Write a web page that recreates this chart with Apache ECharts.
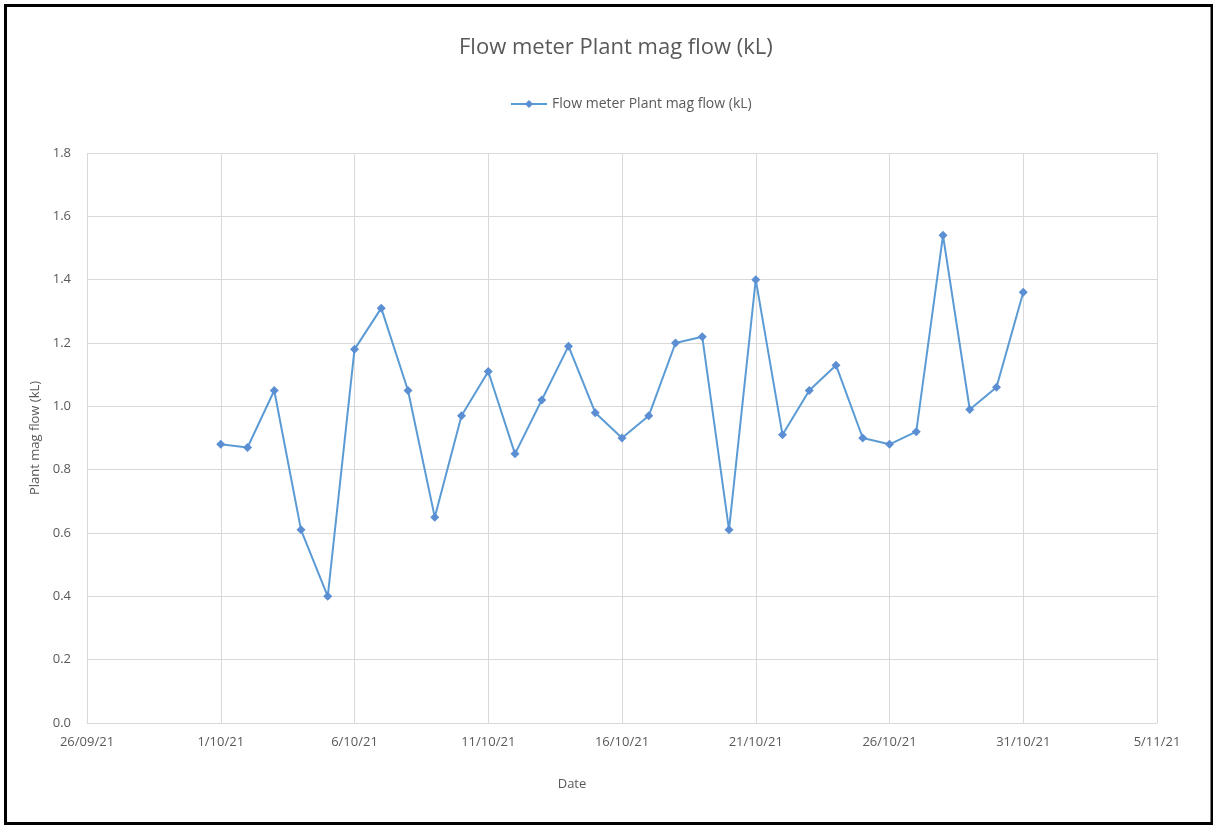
<!DOCTYPE html>
<html>
<head>
<meta charset="utf-8">
<script src="https://cdn.jsdelivr.net/npm/echarts@6/dist/echarts.min.js"></script>
<style>
html,body{margin:0;padding:0;background:#fff;}
#c{width:1213px;height:825px;}
</style>
</head>
<body>
<div id="c"></div>
<script>
var dates = ['2021-10-01','2021-10-02','2021-10-03','2021-10-04','2021-10-05','2021-10-06','2021-10-07','2021-10-08','2021-10-09','2021-10-10',
             '2021-10-11','2021-10-12','2021-10-13','2021-10-14','2021-10-15','2021-10-16','2021-10-17','2021-10-18','2021-10-19','2021-10-20',
             '2021-10-21','2021-10-22','2021-10-23','2021-10-24','2021-10-25','2021-10-26','2021-10-27','2021-10-28','2021-10-29','2021-10-30','2021-10-31'];
var flow = [0.88,0.87,1.05,0.61,0.40,1.18,1.31,1.05,0.65,0.97,
            1.11,0.85,1.02,1.19,0.98,0.90,0.97,1.20,1.22,0.61,
            1.40,0.91,1.05,1.13,0.90,0.88,0.92,1.54,0.99,1.06,1.36];
var axisStartDate = '2021-09-26';
var axisEndDate = '2021-11-05';
var seriesName = 'Flow meter Plant mag flow (kL)';
var titleText = 'Flow meter Plant mag flow (kL)';
var yAxisName = 'Plant mag flow (kL)';
var xAxisName = 'Date';

function toUTC(s){ var p = s.split('-'); return Date.UTC(+p[0], +p[1]-1, +p[2]); }
var DAY = 86400000;
var base = toUTC(axisStartDate);
function dayIndex(s){ return Math.round((toUTC(s) - base) / DAY); }
function fmt(v){
  var d = new Date(base + v * DAY);
  var dd = d.getUTCDate();
  var mm = d.getUTCMonth() + 1;
  var yy = d.getUTCFullYear() % 100;
  return dd + '/' + (mm < 10 ? '0' + mm : mm) + '/' + (yy < 10 ? '0' + yy : yy);
}
var data = dates.map(function(d, i){ return [dayIndex(d), flow[i]]; });

var FONT = '"Open Sans", sans-serif';
var TXT = '#595959';
var chart = echarts.init(document.getElementById('c'));
chart.setOption({
  animation: false,
  backgroundColor: '#fff',
  textStyle: { fontFamily: FONT },
  title: {
    text: titleText, left: 454, top: 32,
    textStyle: { fontFamily: FONT, fontSize: 22, fontWeight: 'normal', color: TXT }
  },
  legend: {
    data: [seriesName], top: 92, left: 505,
    itemWidth: 36, itemHeight: 10, itemGap: 5,
    textStyle: { fontFamily: FONT, fontSize: 14, color: TXT }
  },
  grid: { left: 87, right: 56, top: 153, bottom: 102, containLabel: false },
  xAxis: {
    type: 'value',
    min: 0, max: dayIndex(axisEndDate), interval: 5,
    name: xAxisName, nameLocation: 'middle', nameGap: 55,
    nameTextStyle: { fontFamily: FONT, fontSize: 13, color: TXT, padding: [0, 100, 0, 0] },
    axisLine: { show: true, lineStyle: { color: '#d9d9d9', width: 1 } },
    axisTick: { show: false },
    axisLabel: { formatter: fmt, fontSize: 13, color: TXT, margin: 13, fontFamily: FONT },
    splitLine: { show: true, lineStyle: { color: '#d9d9d9', width: 1 } }
  },
  yAxis: {
    type: 'value',
    min: 0, max: 1.8, interval: 0.2,
    name: yAxisName, nameLocation: 'middle', nameGap: 45, nameRotate: 90,
    nameTextStyle: { fontFamily: FONT, fontSize: 13, color: TXT },
    axisLine: { show: false },
    axisTick: { show: false },
    axisLabel: { formatter: function(v){ return v.toFixed(1); }, fontSize: 13, color: TXT, margin: 16, fontFamily: FONT },
    splitLine: { show: true, lineStyle: { color: '#d9d9d9', width: 1 } }
  },
  series: [{
    name: seriesName,
    type: 'line',
    data: data,
    symbol: 'diamond',
    symbolSize: 9,
    showAllSymbol: true,
    lineStyle: { color: '#5b9bd5', width: 2 },
    itemStyle: { color: '#5b8ed2', borderWidth: 0 }
  }],
  graphic: [{
    type: 'rect',
    shape: { x: 5.5, y: 5.5, width: 1206.5, height: 818 },
    style: { fill: 'none', stroke: '#000', lineWidth: 3 },
    silent: true
  }]
});
</script>
</body>
</html>
